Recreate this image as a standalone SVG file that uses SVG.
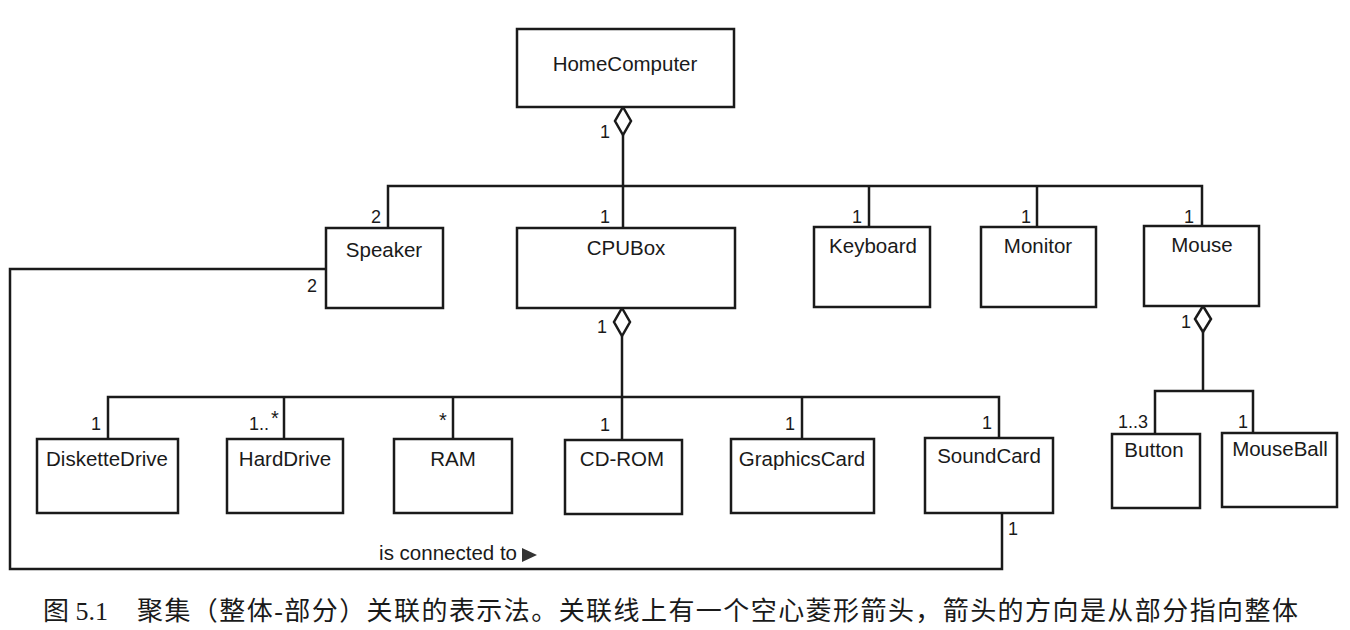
<svg xmlns="http://www.w3.org/2000/svg" width="1350" height="630" viewBox="0 0 1350 630">
<style>
  .box { fill: #ffffff; stroke: #1a1a1a; stroke-width: 2.5; }
  .ln { fill: none; stroke: #1a1a1a; stroke-width: 2.5; }
  .dia { fill: #ffffff; stroke: #1a1a1a; stroke-width: 2.5; stroke-linejoin: miter; }
  .name { font-family: "Liberation Sans", Arial, sans-serif; font-size: 20.5px; fill: #1a1a1a; text-anchor: middle; }
  .mult { font-family: "Liberation Sans", Arial, sans-serif; font-size: 18px; fill: #1a1a1a; text-anchor: middle; }
  .star { font-family: "Liberation Sans", Arial, sans-serif; font-size: 20px; fill: #1a1a1a; text-anchor: middle; }
  .role { font-family: "Liberation Sans", Arial, sans-serif; font-size: 20.5px; fill: #1a1a1a; text-anchor: end; }
  .cap { font-family: "Liberation Serif", "Noto Sans CJK SC", serif; font-size: 26px; fill: #1a1a1a; }
</style>
<rect width="1350" height="630" fill="#ffffff"/>

<g id="connectors">
  <!-- HomeComputer aggregation -->
  <polyline class="ln" points="623,135 623,186"/>
  <polyline class="ln" points="388,228 388,186 1202,186 1202,226"/>
  <polyline class="ln" points="623,186 623,228"/>
  <polyline class="ln" points="869,186 869,227"/>
  <polyline class="ln" points="1037,186 1037,227"/>
  <polygon class="dia" points="623,107 631,121 623,135 615,121"/>
  <!-- CPUBox aggregation -->
  <polyline class="ln" points="622,336 622,397"/>
  <polyline class="ln" points="108,439 108,397 999,397 999,438"/>
  <polyline class="ln" points="284,397 284,439"/>
  <polyline class="ln" points="453,397 453,439"/>
  <polyline class="ln" points="622,397 622,440"/>
  <polyline class="ln" points="802,397 802,439"/>
  <polygon class="dia" points="622,308 630,322 622,336 614,322"/>
  <!-- Mouse aggregation -->
  <polyline class="ln" points="1203,332 1203,391"/>
  <polyline class="ln" points="1155,434 1155,391 1253,391 1253,433"/>
  <polygon class="dia" points="1203,306 1211,319 1203,332 1195,319"/>
  <!-- Speaker - SoundCard association -->
  <polyline class="ln" points="326,269 10,269 10,569 1002,569 1002,513"/>
  <text class="role" x="517" y="560">is connected to</text>
  <polygon points="522,548 537,555 522,562" fill="#333333"/>
  <!-- multiplicities -->
  <text class="mult" x="605" y="138">1</text>
  <text class="mult" x="376" y="223">2</text>
  <text class="mult" x="605" y="223">1</text>
  <text class="mult" x="857" y="223">1</text>
  <text class="mult" x="1026" y="223">1</text>
  <text class="mult" x="1189" y="223">1</text>
  <text class="mult" x="312" y="292">2</text>
  <text class="mult" x="602" y="333">1</text>
  <text class="mult" x="1186" y="328">1</text>
  <text class="mult" x="1133" y="428">1..3</text>
  <text class="mult" x="1243" y="428">1</text>
  <text class="mult" x="96" y="430">1</text>
  <text class="mult" x="259" y="430">1..</text>
  <text class="star" x="275" y="425">*</text>
  <text class="star" x="443" y="427">*</text>
  <text class="mult" x="605" y="431">1</text>
  <text class="mult" x="790" y="430">1</text>
  <text class="mult" x="987" y="429">1</text>
  <text class="mult" x="1013" y="535">1</text>
</g>

<g id="HomeComputer"><rect class="box" x="517" y="29" width="217" height="78"/><text class="name" x="625" y="71">HomeComputer</text></g>
<g id="Speaker"><rect class="box" x="326" y="228" width="117" height="80"/><text class="name" x="384" y="257">Speaker</text></g>
<g id="CPUBox"><rect class="box" x="517" y="228" width="218" height="80"/><text class="name" x="626" y="255">CPUBox</text></g>
<g id="Keyboard"><rect class="box" x="814" y="227" width="116" height="80"/><text class="name" x="873" y="253">Keyboard</text></g>
<g id="Monitor"><rect class="box" x="981" y="227" width="115" height="80"/><text class="name" x="1038" y="253">Monitor</text></g>
<g id="Mouse"><rect class="box" x="1144" y="226" width="115" height="80"/><text class="name" x="1202" y="252">Mouse</text></g>
<g id="DisketteDrive"><rect class="box" x="37" y="439" width="141" height="74"/><text class="name" x="107" y="466">DisketteDrive</text></g>
<g id="HardDrive"><rect class="box" x="227" y="439" width="116" height="74"/><text class="name" x="285" y="466">HardDrive</text></g>
<g id="RAM"><rect class="box" x="394" y="439" width="118" height="74"/><text class="name" x="453" y="466">RAM</text></g>
<g id="CD-ROM"><rect class="box" x="565" y="440" width="117" height="74"/><text class="name" x="622" y="466">CD-ROM</text></g>
<g id="GraphicsCard"><rect class="box" x="731" y="439" width="143" height="74"/><text class="name" x="802" y="466">GraphicsCard</text></g>
<g id="SoundCard"><rect class="box" x="925" y="438" width="128" height="75"/><text class="name" x="989" y="463">SoundCard</text></g>
<g id="Button"><rect class="box" x="1112" y="434" width="88" height="74"/><text class="name" x="1154" y="457">Button</text></g>
<g id="MouseBall"><rect class="box" x="1222" y="433" width="115" height="74"/><text class="name" x="1280" y="456">MouseBall</text></g>

<g id="caption">
  <text class="cap" x="43" y="620">图 5.1</text>
  <text class="cap" x="137" y="620" textLength="1161" lengthAdjust="spacing">聚集（整体-部分）关联的表示法。关联线上有一个空心菱形箭头，箭头的方向是从部分指向整体</text>
</g>
</svg>
